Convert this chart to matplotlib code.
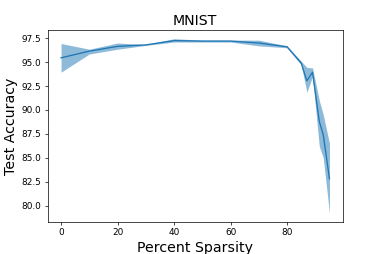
import matplotlib
matplotlib.use("Agg")
import matplotlib.pyplot as plt
import numpy as np

sparsity = [0, 10, 20, 30, 40, 50, 60, 70, 80, 85, 87, 89, 91.4, 92.8, 95]
acc_mean = [95.45, 96.15, 96.65, 96.8, 97.25, 97.2, 97.2, 97.0, 96.6, 94.9, 93.05, 93.95, 88.8, 87.4, 82.8]
acc_low = [93.95, 95.85, 96.35, 96.75, 97.1, 97.1, 97.1, 96.7, 96.5, 94.7, 91.85, 93.5, 86.2, 85.0, 79.2]
acc_high = [96.95, 96.35, 97.0, 96.85, 97.45, 97.3, 97.3, 97.3, 96.7, 95.1, 94.45, 94.4, 91.0, 89.5, 86.5]

fig = plt.figure(figsize=(6, 4), dpi=63.5)
ax = fig.add_subplot(111)
fig.subplots_adjust(left=0.125, right=0.9, top=0.882, bottom=0.126)

ax.plot(sparsity, acc_mean, color='C0', lw=1.5)
ax.fill_between(sparsity, acc_low, acc_high, color='C0', alpha=0.5, lw=0)

ax.set_xticks([0, 20, 40, 60, 80])
ax.set_yticks(np.arange(80, 97.6, 2.5))
ax.set_title('MNIST', fontsize=16)
ax.set_xlabel('Percent Sparsity', fontsize=16)
ax.set_ylabel('Test Accuracy', fontsize=16)

fig.savefig('out.png', dpi=63.5)
